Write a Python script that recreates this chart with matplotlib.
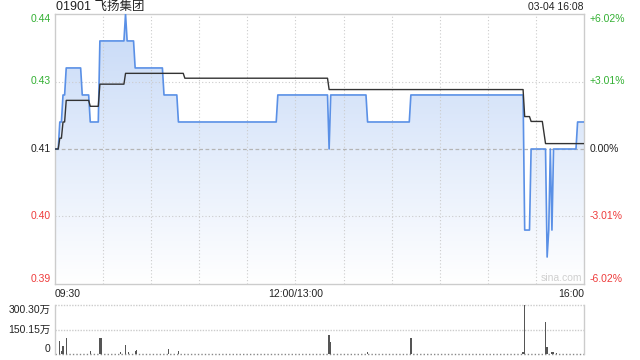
import numpy as np
import matplotlib
matplotlib.use("Agg")
import matplotlib.pyplot as plt
from matplotlib.patches import Polygon
from matplotlib.colors import LinearSegmentedColormap
import matplotlib.transforms as mtransforms

plt.rcParams['font.family'] = ['Liberation Sans', 'Noto Sans CJK SC', 'DejaVu Sans']

# ---------------- data ----------------
title_code = "01901"
title_name = "飞扬集团"
stamp_text = "03-04 16:08"
watermark = "sina.com"
prev_close = 0.415
pct_range = 0.0602
total_min = 330

# price: minute (from 09:30, lunch removed) where a new level starts, and the level
price_change_min = [0, 3, 5, 7, 17, 22, 28, 44, 45, 50, 68, 77, 139, 171, 172,
                    195, 222, 293, 297, 307, 308, 309, 310, 311, 326]
price_levels = [0.415, 0.42, 0.425, 0.43, 0.425, 0.42, 0.435, 0.44, 0.435, 0.43,
                0.425, 0.42, 0.425, 0.415, 0.425, 0.42, 0.425, 0.40, 0.415,
                0.395, 0.40, 0.415, 0.40, 0.415, 0.42]

# average price line
avg_change_min = [0, 3, 5, 7, 22, 28, 44, 81, 171, 293, 297, 305, 306]
avg_levels = [0.415, 0.417, 0.420, 0.424, 0.4229, 0.427, 0.429, 0.4281, 0.426,
              0.421, 0.4201, 0.418, 0.416]

# volume (万股)
vol_min = [3, 4, 5, 7, 22, 28, 29, 41, 44, 46, 50, 51, 71, 77,
           171, 172, 195, 222, 292, 293, 306, 307, 310, 311, 313]
vol_wan = [81, 16, 47, 99, 20, 99, 99, 10, 57, 10, 16, 22, 32, 16,
           118, 75, 10, 99, 10, 300.3, 197, 45, 10, 14, 8]
vol_max = 300.30

left_labels = ["0.44", "0.43", "0.41", "0.40", "0.39"]
right_labels = ["+6.02%", "+3.01%", "0.00%", "-3.01%", "-6.02%"]
label_pcts = [0.0602, 0.0301, 0.0, -0.0301, -0.0602]
time_labels = ["09:30", "12:00/13:00", "16:00"]
time_label_min = [0, 150, 330]
vol_labels = ["300.30万", "150.15万", "0"]
vol_label_vals = [300.30, 150.15, 0]

# ---------------- styles ----------------
GREEN = '#33b033'
RED = '#ee3b3b'
BLACK = '#222222'
GRID = '#cccccc'
BLUE = '#5a90e6'
FS = 7.5

fig = plt.figure(figsize=(6.4, 3.6), dpi=100)
W, H = 640, 360
L, R = 55 / W, 584 / W
ax = fig.add_axes([L, 1 - 284 / H, R - L, (284 - 14) / H])
axv = fig.add_axes([L, 1 - 354 / H, R - L, (354 - 305) / H])

ymin = prev_close * (1 - pct_range)
ymax = prev_close * (1 + pct_range)

minutes = np.arange(total_min + 1)
pidx = np.searchsorted(price_change_min, minutes, side='right') - 1
price = np.array(price_levels)[pidx]
aidx = np.searchsorted(avg_change_min, minutes, side='right') - 1
avg = np.array(avg_levels)[aidx]

ax.set_xlim(0, total_min)
ax.set_ylim(ymin, ymax)

# gradient fill under the price line
cmap = LinearSegmentedColormap.from_list('g', ['#ffffff', '#c6d9f7'])
grad = np.linspace(0, 1, 256).reshape(-1, 1)
im = ax.imshow(grad, extent=[0, total_min, ymin, ymax], aspect='auto',
               cmap=cmap, origin='lower', zorder=1, interpolation='bilinear')
verts = list(zip(minutes, price)) + [(total_min, ymin), (0, ymin)]
poly = Polygon(verts, closed=True, facecolor='none', edgecolor='none',
               transform=ax.transData)
ax.add_patch(poly)
im.set_clip_path(poly)

# grid
for m in range(30, total_min, 30):
    ax.axvline(m, color=GRID, lw=0.8, ls=(0, (1, 2)), zorder=2)
for p in label_pcts[1:-1]:
    y = prev_close * (1 + p)
    if p == 0:
        ax.axhline(y, color='#b5b5b5', lw=0.9, ls=(0, (3, 2)), zorder=2)
    else:
        ax.axhline(y, color=GRID, lw=0.8, ls=(0, (1, 2)), zorder=2)

ax.plot(minutes, price, color=BLUE, lw=1.2, zorder=4)
ax.plot(minutes, avg, color='#333333', lw=1.0, zorder=5)

ax.set_xticks([])
ax.set_yticks([])
for s in ax.spines.values():
    s.set_color(GRID)
    s.set_linewidth(1)

trans = mtransforms.blended_transform_factory(ax.transAxes, ax.transData)
n = len(left_labels)
for i, (ll, rl, p) in enumerate(zip(left_labels, right_labels, label_pcts)):
    y = prev_close * (1 + p)
    col = GREEN if p > 0 else (RED if p < 0 else BLACK)
    va = 'top' if i == 0 else ('bottom' if i == n - 1 else 'center')
    ax.text(-0.008, y, ll, transform=trans, ha='right', va=va, color=col, fontsize=FS)
    ax.text(1.011, y, rl, transform=trans, ha='left', va=va, color=col, fontsize=FS)

transx = mtransforms.blended_transform_factory(ax.transData, ax.transAxes)
for i, (tl, tm) in enumerate(zip(time_labels, time_label_min)):
    ha = 'left' if i == 0 else ('right' if i == len(time_labels) - 1 else 'center')
    ax.text(tm, -0.036, tl, transform=transx, ha=ha, va='center', color=BLACK, fontsize=FS)

ax.text(0.997, 0.005, watermark, transform=ax.transAxes, ha='right', va='bottom',
        color='#cfcfcf', fontsize=FS)

fig.text(L + 1 / W, 1 - 7 / H, title_code + " " + title_name, ha='left', va='center',
         color=BLACK, fontsize=9)
fig.text(R, 1 - 7 / H, stamp_text, ha='right', va='center', color=BLACK, fontsize=FS)

# volume panel
axv.set_xlim(0, total_min)
axv.set_ylim(0, vol_max)
axv.bar(vol_min, vol_wan, width=0.8, color='#555555', zorder=3)
axv.set_xticks([])
axv.set_yticks([])
for k in ['top', 'bottom']:
    axv.spines[k].set_visible(False)
for k in ['left', 'right']:
    axv.spines[k].set_color(GRID)
    axv.spines[k].set_linewidth(1)
axv.axhline(vol_max, color=GRID, lw=1, ls=(0, (1, 1)), clip_on=False)
axv.axhline(vol_max / 2, color=GRID, lw=1, ls=(0, (1, 1)))
axv.axhline(0, color='#888888', lw=1, ls=(0, (1, 1.5)), clip_on=False)

transv = mtransforms.blended_transform_factory(axv.transAxes, axv.transData)
for i, (vl, vv) in enumerate(zip(vol_labels, vol_label_vals)):
    va = 'top' if i == 0 else ('bottom' if i == len(vol_labels) - 1 else 'center')
    axv.text(-0.009, vv, vl, transform=transv, ha='right', va=va, color=BLACK, fontsize=FS)

fig.savefig("out.png", dpi=100)
